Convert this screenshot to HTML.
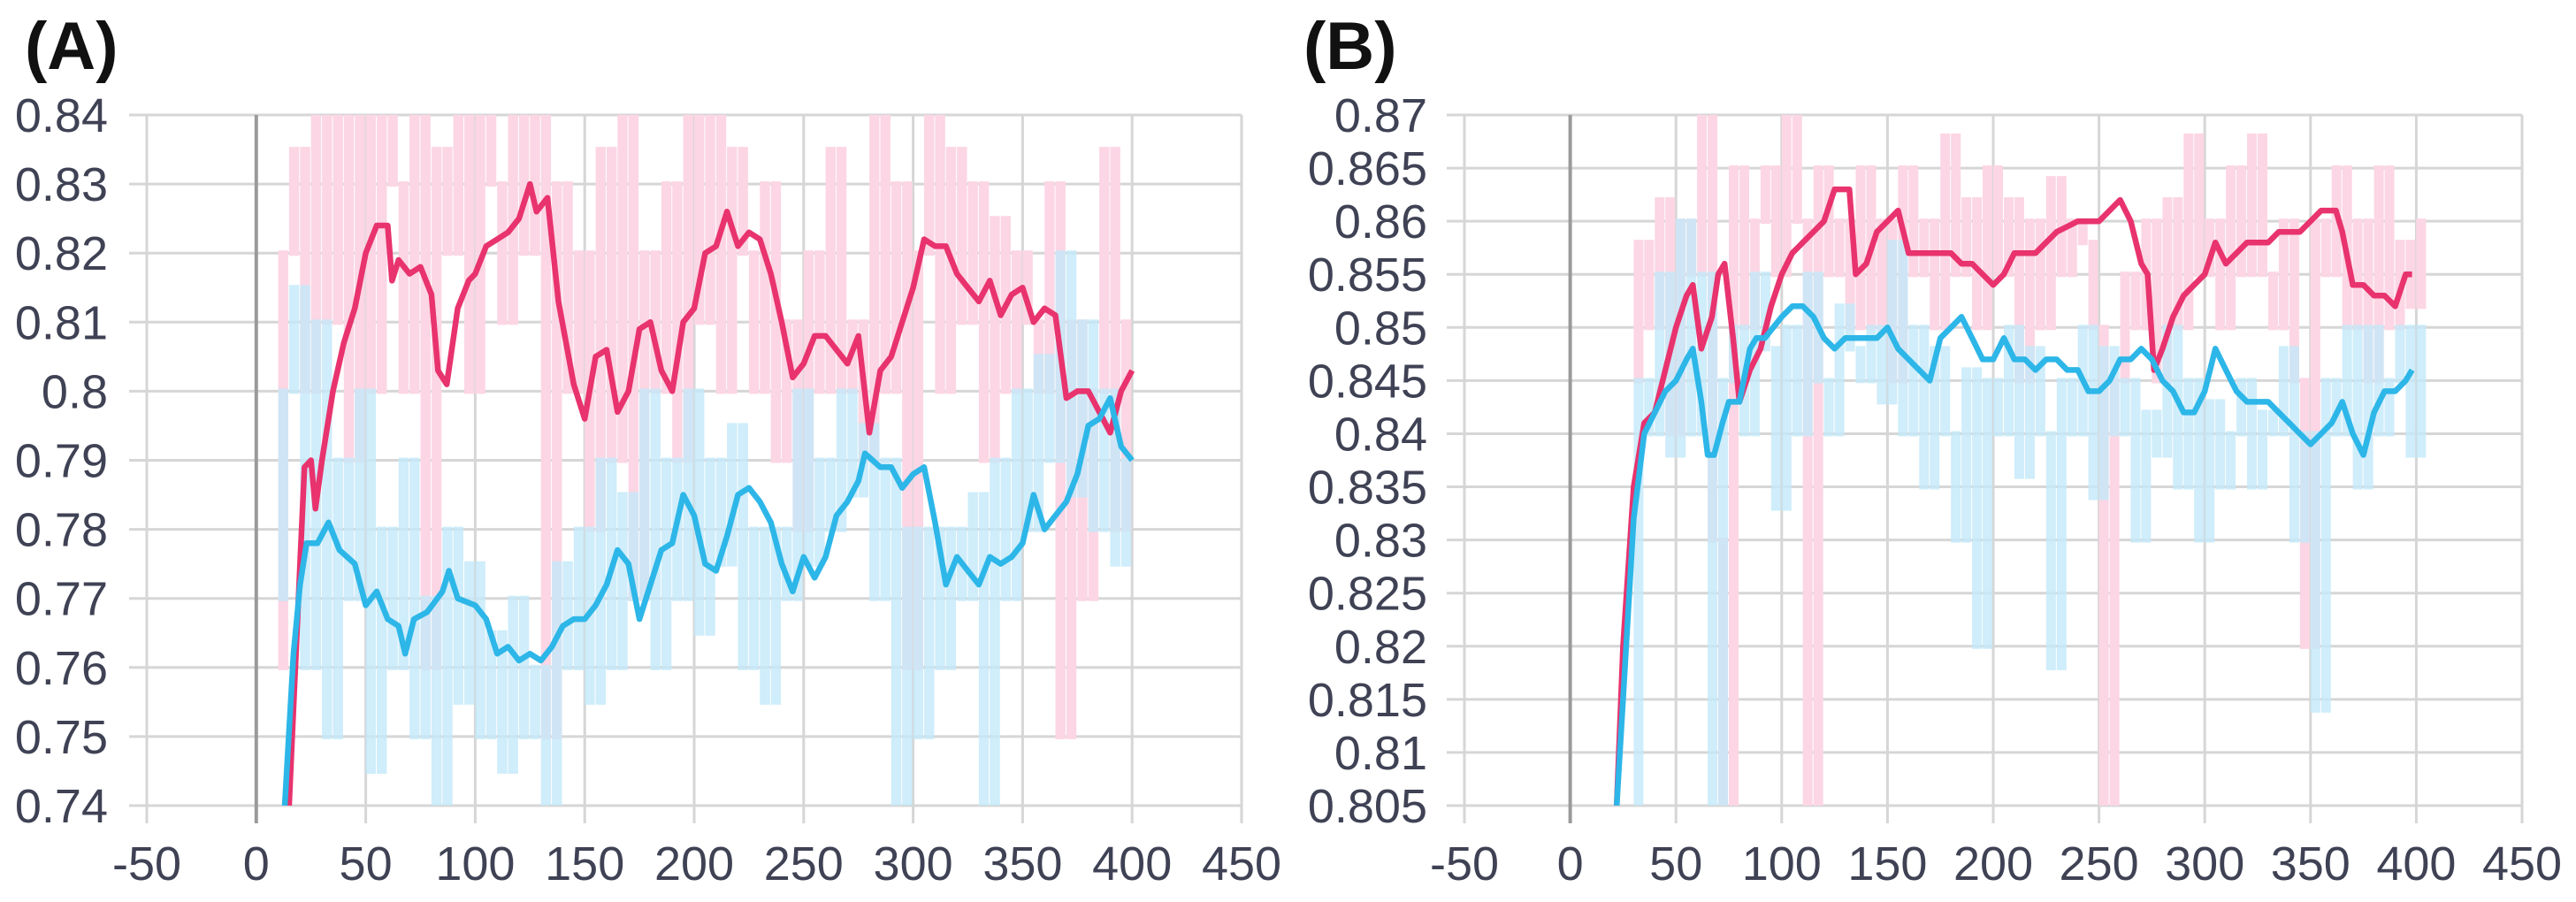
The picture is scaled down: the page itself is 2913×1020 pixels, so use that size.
<!DOCTYPE html>
<html><head><meta charset="utf-8"><style>
html,body{margin:0;padding:0;background:#fff;}
svg{display:block;font-family:"Liberation Sans",sans-serif;}
</style></head><body>
<svg id="chart" width="2913" height="1020" viewBox="0 0 2913 1020" xmlns="http://www.w3.org/2000/svg">
<defs>
<clipPath id="clipA"><rect x="166" y="130" width="1238" height="781"/></clipPath>
<clipPath id="clipB"><rect x="1656" y="130" width="1196" height="781"/></clipPath>
</defs>
<text x="28" y="78" font-size="76" font-weight="bold" fill="#111">(A)</text>
<text x="1474" y="78" font-size="76" font-weight="bold" fill="#111">(B)</text>
</svg>
<script>
// x ticks shared
const xTicks = [-50,0,50,100,150,200,250,300,350,400,450];
// Panel A y ticks
const yTicksA = ["0.84","0.83","0.82","0.81","0.8","0.79","0.78","0.77","0.76","0.75","0.74"];
// Panel B y ticks
const yTicksB = ["0.87","0.865","0.86","0.855","0.85","0.845","0.84","0.835","0.83","0.825","0.82","0.815","0.81","0.805"];

// Panel A smoothed pink (x, value)
const pinkAX = [15,20,22,25,27,30,35,40,45,50,55,60,62,65,70,75,80,83,87,92,97,100,105,110,115,120,125,128,133,138,145,150,155,160,165,170,175,180,185,190,195,200,205,210,215,220,225,230,235,240,245,250,255,260,265,270,275,280,285,290,295,300,305,310,315,320,325,330,335,340,345,350,355,360,365,370,375,380,385,390,395,400];
const pinkAY = [0.74,0.775,0.789,0.79,0.783,0.79,0.80,0.807,0.812,0.82,0.824,0.824,0.816,0.819,0.817,0.818,0.814,0.803,0.801,0.812,0.816,0.817,0.821,0.822,0.823,0.825,0.83,0.826,0.828,0.813,0.801,0.796,0.805,0.806,0.797,0.80,0.809,0.81,0.803,0.80,0.81,0.812,0.82,0.821,0.826,0.821,0.823,0.822,0.817,0.81,0.802,0.804,0.808,0.808,0.806,0.804,0.808,0.794,0.803,0.805,0.81,0.815,0.822,0.821,0.821,0.817,0.815,0.813,0.816,0.811,0.814,0.815,0.81,0.812,0.811,0.799,0.80,0.80,0.797,0.794,0.80,0.803];
// Panel A smoothed blue
const blueAX = [13,17,20,23,28,33,38,45,50,55,60,65,68,72,78,85,88,92,100,105,110,115,120,125,130,135,140,145,150,155,160,165,170,175,180,185,190,195,200,205,210,215,220,225,230,235,240,245,250,255,260,265,270,275,278,285,290,295,300,305,310,315,320,325,330,335,340,345,350,355,360,365,370,375,380,385,390,395,400];
const blueAY = [0.74,0.762,0.772,0.778,0.778,0.781,0.777,0.775,0.769,0.771,0.767,0.766,0.762,0.767,0.768,0.771,0.774,0.77,0.769,0.767,0.762,0.763,0.761,0.762,0.761,0.763,0.766,0.767,0.767,0.769,0.772,0.777,0.775,0.767,0.772,0.777,0.778,0.785,0.782,0.775,0.774,0.779,0.785,0.786,0.784,0.781,0.775,0.771,0.776,0.773,0.776,0.782,0.784,0.787,0.791,0.789,0.789,0.786,0.788,0.789,0.781,0.772,0.776,0.774,0.772,0.776,0.775,0.776,0.778,0.785,0.78,0.782,0.784,0.788,0.795,0.796,0.799,0.792,0.79];
// Panel A raw (every 5 steps starting at 10)
const rawPinkA = [0.76,0.82,0.835,0.80,0.84,0.81,0.84,0.79,0.84,0.80,0.84,0.83,0.80,0.84,0.76,0.835,0.82,0.84,0.80,0.84,0.83,0.81,0.84,0.82,0.84,0.75,0.83,0.80,0.82,0.78,0.835,0.79,0.84,0.77,0.82,0.80,0.83,0.79,0.84,0.81,0.84,0.80,0.835,0.82,0.80,0.83,0.79,0.81,0.78,0.82,0.80,0.835,0.80,0.81,0.79,0.84,0.80,0.83,0.76,0.82,0.84,0.80,0.835,0.81,0.83,0.79,0.825,0.80,0.82,0.81,0.80,0.83,0.75,0.81,0.77,0.80,0.835,0.78,0.81];
const rawBlueA = [0.77,0.80,0.815,0.76,0.81,0.75,0.79,0.77,0.80,0.745,0.78,0.76,0.79,0.75,0.77,0.74,0.78,0.755,0.775,0.75,0.765,0.745,0.77,0.75,0.76,0.74,0.775,0.76,0.78,0.755,0.79,0.76,0.785,0.77,0.80,0.76,0.79,0.77,0.80,0.765,0.79,0.775,0.795,0.76,0.78,0.755,0.78,0.77,0.80,0.775,0.79,0.78,0.80,0.785,0.795,0.77,0.79,0.74,0.78,0.75,0.78,0.76,0.78,0.77,0.785,0.74,0.79,0.77,0.80,0.78,0.805,0.79,0.82,0.785,0.81,0.78,0.80,0.775,0.79];

// Panel B smoothed pink
const pinkBX = [22,25,30,35,40,45,50,55,58,62,67,70,73,77,80,85,90,95,100,105,110,115,120,125,132,135,140,145,150,155,160,170,180,185,190,195,200,205,210,220,225,230,240,250,255,260,265,270,273,276,280,285,290,295,300,305,310,315,320,330,335,345,350,355,362,365,370,375,380,385,390,395,398];
const pinkBY = [0.805,0.82,0.835,0.841,0.842,0.846,0.85,0.853,0.854,0.848,0.851,0.855,0.856,0.849,0.843,0.846,0.848,0.852,0.855,0.857,0.858,0.859,0.86,0.863,0.863,0.855,0.856,0.859,0.86,0.861,0.857,0.857,0.857,0.856,0.856,0.855,0.854,0.855,0.857,0.857,0.858,0.859,0.86,0.86,0.861,0.862,0.86,0.856,0.855,0.846,0.848,0.851,0.853,0.854,0.855,0.858,0.856,0.857,0.858,0.858,0.859,0.859,0.86,0.861,0.861,0.859,0.854,0.854,0.853,0.853,0.852,0.855,0.855];
// Panel B smoothed blue
const blueBX = [22,25,30,35,40,45,50,55,58,62,65,68,72,75,80,85,88,92,100,105,110,115,120,125,130,140,145,150,155,160,165,170,175,180,185,190,195,200,205,210,215,220,225,230,235,240,245,250,255,260,265,270,275,280,285,290,295,300,305,310,315,320,325,330,335,340,345,350,355,360,365,370,375,380,385,390,395,398];
const blueBY = [0.805,0.815,0.832,0.84,0.842,0.844,0.845,0.847,0.848,0.843,0.838,0.838,0.841,0.843,0.843,0.848,0.849,0.849,0.851,0.852,0.852,0.851,0.849,0.848,0.849,0.849,0.849,0.85,0.848,0.847,0.846,0.845,0.849,0.85,0.851,0.849,0.847,0.847,0.849,0.847,0.847,0.846,0.847,0.847,0.846,0.846,0.844,0.844,0.845,0.847,0.847,0.848,0.847,0.845,0.844,0.842,0.842,0.844,0.848,0.846,0.844,0.843,0.843,0.843,0.842,0.841,0.84,0.839,0.84,0.841,0.843,0.84,0.838,0.842,0.844,0.844,0.845,0.846];
// Panel B raw (every 5 steps starting at 30)
const rawPinkB = [0.845,0.858,0.85,0.862,0.84,0.86,0.855,0.87,0.83,0.805,0.865,0.85,0.86,0.865,0.855,0.87,0.86,0.805,0.865,0.855,0.86,0.85,0.865,0.85,0.86,0.845,0.865,0.855,0.86,0.85,0.868,0.855,0.862,0.85,0.865,0.855,0.862,0.845,0.86,0.85,0.864,0.855,0.86,0.858,0.85,0.805,0.845,0.855,0.85,0.86,0.845,0.862,0.85,0.868,0.855,0.86,0.85,0.865,0.855,0.868,0.855,0.85,0.86,0.845,0.82,0.86,0.855,0.865,0.85,0.86,0.845,0.865,0.85,0.858,0.852,0.86];
const rawBlueB = [0.805,0.845,0.84,0.855,0.838,0.86,0.84,0.855,0.805,0.845,0.85,0.84,0.855,0.848,0.833,0.85,0.84,0.855,0.845,0.84,0.852,0.848,0.845,0.85,0.843,0.858,0.84,0.85,0.835,0.848,0.84,0.83,0.846,0.82,0.845,0.84,0.85,0.836,0.848,0.84,0.818,0.845,0.84,0.85,0.834,0.848,0.84,0.845,0.83,0.842,0.838,0.85,0.835,0.845,0.83,0.843,0.835,0.84,0.845,0.835,0.842,0.84,0.848,0.83,0.84,0.814,0.845,0.84,0.85,0.835,0.85,0.84,0.845,0.85,0.838,0.85];

const NS = 'http://www.w3.org/2000/svg';
const svg = document.getElementById('chart');
function mk(tag, attrs, parent) {
  const e = document.createElementNS(NS, tag);
  for (const k in attrs) e.setAttribute(k, attrs[k]);
  (parent || svg).appendChild(e);
  return e;
}

function panel(p) {
  const sx = v => p.x0 + (v - (-50)) / 500 * (p.x1 - p.x0);
  const sy = v => p.yTop + (p.vmax - v) / (p.vmax - p.vmin) * (p.yBot - p.yTop);
  const g = mk('g', {});
  
  
  p.yTicks.forEach(t => {
    const y = sy(parseFloat(t));
    const ln = mk('line', {x1: p.x0 - 20, x2: p.x1, y1: y, y2: y, stroke: '#d6d6d6', 'stroke-width': 3}, g);
    
    
    const tx = mk('text', {x: p.labelRight, y: y + 19, 'text-anchor': 'end', 'font-size': 54, fill: '#3f4254'}, g);
    
    
    tx.textContent = t;
  });
  xTicks.forEach(t => {
    const x = sx(t);
    const ln = mk('line', {x1: x, x2: x, y1: p.yTop, y2: p.yBot + 20, stroke: t === 0 ? '#9a9a9a' : '#d6d6d6', 'stroke-width': t === 0 ? 4 : 3}, g);
    
    
    const tx = mk('text', {x: x, y: 995, 'text-anchor': 'middle', 'font-size': 54, fill: '#3f4254'}, g);
    
    
    tx.textContent = t;
  });
  const plot = mk('g', {'clip-path': 'url(#' + p.clip + ')'});
  
  
  function rawBand(vals, start, color, nm) {
    const grp = mk('g', {fill: color}, plot);
    
    
    for (let i = 0; i < vals.length - 1; i++) {
      const xa = sx(start + i * 5), xb = sx(start + i * 5 + 5);
      const ya = sy(vals[i]), yb = sy(vals[i + 1]);
      const r = mk('rect', {x: xa.toFixed(1), y: (Math.min(ya, yb) - 3).toFixed(1), width: (xb - xa - 1).toFixed(1), height: (Math.abs(ya - yb) + 6).toFixed(1)}, grp);
      
      
    }
  }
  function line(xs, ys, color, nm) {
    const d = xs.map((x, i) => (i ? 'L' : 'M') + sx(x).toFixed(1) + ',' + sy(ys[i]).toFixed(1)).join('');
    const e = mk('path', {d: d, fill: 'none', stroke: color, 'stroke-width': 6.5, 'stroke-linejoin': 'round'}, plot);
    
    
  }
  rawBand(p.rawPink, p.rawStart, '#fcd6e4', 'raw-pink-series');
  rawBand(p.rawBlue, p.rawStart, 'rgba(195,232,249,0.8)', 'raw-blue-series');
  line(p.pinkX, p.pinkY, '#e8336e', 'smoothed-pink-series');
  line(p.blueX, p.blueY, '#2db6e8', 'smoothed-blue-series');
}

panel({name: 'panel-a', x0: 166, x1: 1404, yTop: 130, yBot: 911, vmax: 0.84, vmin: 0.74, labelRight: 122,
  yTicks: yTicksA, clip: 'clipA', rawPink: rawPinkA, rawBlue: rawBlueA, rawStart: 10,
  pinkX: pinkAX, pinkY: pinkAY, blueX: blueAX, blueY: blueAY});
panel({name: 'panel-b', x0: 1656, x1: 2852, yTop: 130, yBot: 911, vmax: 0.87, vmin: 0.805, labelRight: 1614,
  yTicks: yTicksB, clip: 'clipB', rawPink: rawPinkB, rawBlue: rawBlueB, rawStart: 30,
  pinkX: pinkBX, pinkY: pinkBY, blueX: blueBX, blueY: blueBY});
</script>
</body></html>
